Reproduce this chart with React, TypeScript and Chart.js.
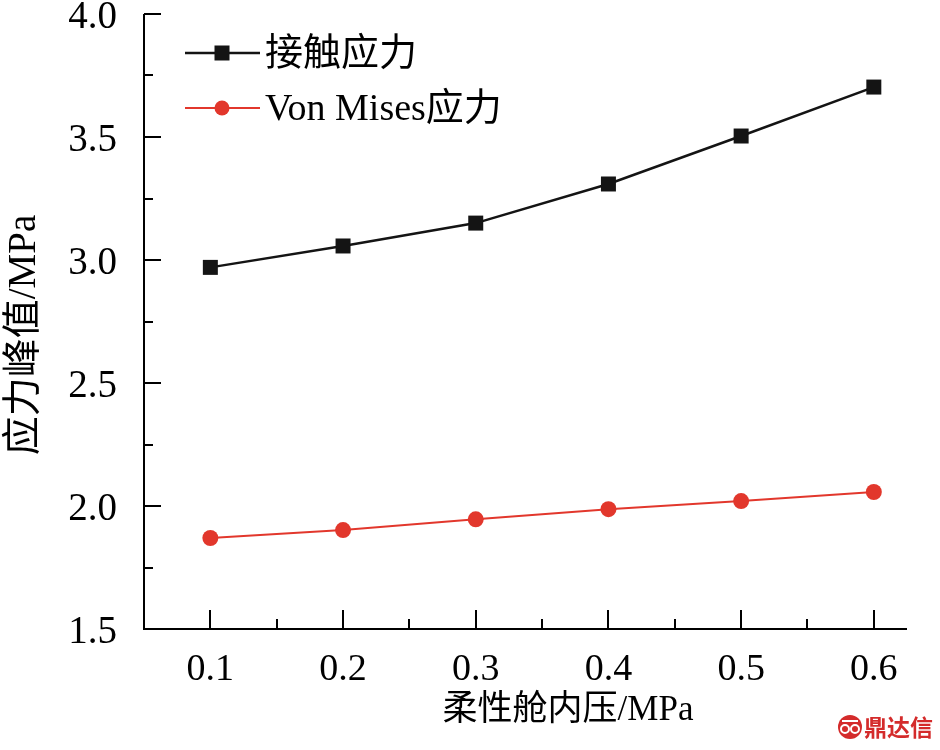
import React, { useEffect, useRef } from 'react';
import { Chart, registerables } from 'chart.js';

Chart.register(...registerables);

// ---- data ----
const pressures = [0.1, 0.2, 0.3, 0.4, 0.5, 0.6];
const contactStress = [2.97, 3.057, 3.15, 3.309, 3.504, 3.703];
const vonMisesStress = [1.87, 1.902, 1.946, 1.987, 2.02, 2.057];
const seriesNames = ['接触应力', 'Von Mises应力'];
const xMajorTicks = [0.1, 0.2, 0.3, 0.4, 0.5, 0.6];
const xMinorTicks = [0.15, 0.25, 0.35, 0.45, 0.55];
const yMajorTicks = [1.5, 2.0, 2.5, 3.0, 3.5, 4.0];
const yMinorTicks = [1.75, 2.25, 2.75, 3.25, 3.75];
const xTitle = '柔性舱内压/MPa';
const yTitle = '应力峰值/MPa';
const watermark = '鼎达信';

const SERIF = '"Liberation Serif", "Noto Sans CJK SC", serif';
const BLACK = '#141414';
const RED = '#e2372c';

const decorPlugin = {
  id: 'decor',
  beforeDatasetsDraw(chart: any) {
    const { ctx, chartArea, scales } = chart;
    const { left, right, top, bottom } = chartArea;
    const x = scales.x;
    const y = scales.y;
    ctx.save();
    ctx.strokeStyle = '#000';
    ctx.lineWidth = 2;
    ctx.beginPath();
    ctx.moveTo(left, top);
    ctx.lineTo(left, bottom);
    ctx.lineTo(right, bottom);
    ctx.stroke();
    ctx.beginPath();
    const MAJ = 19;
    const MIN = 10;
    xMajorTicks.forEach((v) => {
      const p = Math.round(x.getPixelForValue(v));
      ctx.moveTo(p, bottom);
      ctx.lineTo(p, bottom - MAJ);
    });
    xMinorTicks.forEach((v) => {
      const p = Math.round(x.getPixelForValue(v));
      ctx.moveTo(p, bottom);
      ctx.lineTo(p, bottom - MIN);
    });
    yMajorTicks.forEach((v) => {
      const p = Math.round(y.getPixelForValue(v));
      ctx.moveTo(left, p);
      ctx.lineTo(left + 17, p);
    });
    yMinorTicks.forEach((v) => {
      const p = Math.round(y.getPixelForValue(v));
      ctx.moveTo(left, p);
      ctx.lineTo(left + 9, p);
    });
    ctx.stroke();
    ctx.restore();
  },
  afterDraw(chart: any) {
    const { ctx, chartArea } = chart;
    const { left, top } = chartArea;
    ctx.save();
    // legend
    chart.data.datasets.forEach((ds: any, i: number) => {
      const ry = top + 39 + i * 55;
      ctx.strokeStyle = ds.borderColor;
      ctx.lineWidth = ds.borderWidth;
      ctx.beginPath();
      ctx.moveTo(left + 41, ry);
      ctx.lineTo(left + 116, ry);
      ctx.stroke();
      ctx.fillStyle = ds.pointBackgroundColor;
      const cx = left + 78;
      if (ds.pointStyle === 'rect') {
        ctx.fillRect(cx - 7.5, ry - 7.5, 15, 15);
      } else {
        ctx.beginPath();
        ctx.arc(cx, ry, 7.5, 0, Math.PI * 2);
        ctx.fill();
      }
      ctx.fillStyle = '#000';
      ctx.font = `38px ${SERIF}`;
      ctx.textBaseline = 'middle';
      ctx.textAlign = 'left';
      ctx.fillText(ds.label, left + 121, ry + 2);
    });
    // axis titles
    ctx.fillStyle = '#000';
    ctx.textAlign = 'center';
    ctx.textBaseline = 'middle';
    ctx.font = `35px ${SERIF}`;
    ctx.fillText(xTitle, 568, 711);
    ctx.save();
    ctx.translate(25, 335);
    ctx.rotate(-Math.PI / 2);
    ctx.font = `39px ${SERIF}`;
    ctx.fillText(yTitle, 0, 0);
    ctx.restore();
    // watermark
    ctx.fillStyle = '#d42b2b';
    ctx.beginPath();
    ctx.arc(850, 727, 12, 0, Math.PI * 2);
    ctx.fill();
    ctx.strokeStyle = '#fff';
    ctx.lineWidth = 2;
    ctx.beginPath();
    ctx.arc(845, 729, 4, 0, Math.PI * 2);
    ctx.moveTo(859, 729);
    ctx.arc(855, 729, 4, 0, Math.PI * 2);
    ctx.moveTo(842, 721);
    ctx.lineTo(858, 721);
    ctx.stroke();
    ctx.fillStyle = '#d42b2b';
    ctx.textAlign = 'left';
    ctx.font = `bold 23px "Noto Sans CJK SC", sans-serif`;
    ctx.fillText(watermark, 864, 727);
    ctx.restore();
  },
};

export default function App() {
  const ref = useRef<HTMLCanvasElement>(null);
  useEffect(() => {
    if (!ref.current) return;
    const chart = new Chart(ref.current, {
      type: 'line',
      data: {
        datasets: [
          {
            label: seriesNames[0],
            data: pressures.map((p, i) => ({ x: p, y: contactStress[i] })),
            borderColor: BLACK,
            borderWidth: 2.5,
            pointStyle: 'rect',
            pointRadius: 10.6,
            pointBackgroundColor: BLACK,
            pointBorderWidth: 0,
            tension: 0,
          },
          {
            label: seriesNames[1],
            data: pressures.map((p, i) => ({ x: p, y: vonMisesStress[i] })),
            borderColor: RED,
            borderWidth: 2,
            pointStyle: 'circle',
            pointRadius: 8,
            pointBackgroundColor: RED,
            pointBorderWidth: 0,
            tension: 0,
          },
        ],
      } as any,
      options: {
        animation: false,
        responsive: false,
        devicePixelRatio: 1,
        layout: { padding: { top: 14, right: 33, left: 0, bottom: 0 } },
        plugins: { legend: { display: false }, tooltip: { enabled: false } },
        scales: {
          x: {
            type: 'linear',
            min: 0.05,
            max: 0.625,
            grid: { display: false, drawTicks: false },
            border: { display: false },
            ticks: {
              color: '#000',
              font: { family: SERIF, size: 38, lineHeight: 1.2 },
              padding: 18,
              maxRotation: 0,
              autoSkip: false,
              callback: (v: any) => Number(v).toFixed(1),
            },
            afterBuildTicks: (s: any) => {
              s.ticks = xMajorTicks.map((v) => ({ value: v }));
            },
            afterFit: (s: any) => {
              s.height = 121;
              s.paddingLeft = 0;
              s.paddingRight = 0;
            },
          },
          y: {
            type: 'linear',
            min: 1.5,
            max: 4.0,
            grid: { display: false, drawTicks: false },
            border: { display: false },
            ticks: {
              color: '#000',
              font: { family: SERIF, size: 39, lineHeight: 1.2 },
              padding: 27,
              labelOffset: 4,
              autoSkip: false,
              callback: (v: any) => Number(v).toFixed(1),
            },
            afterBuildTicks: (s: any) => {
              s.ticks = yMajorTicks.map((v) => ({ value: v }));
            },
            afterFit: (s: any) => {
              s.width = 144;
              s.paddingTop = 0;
              s.paddingBottom = 0;
            },
          },
        },
      } as any,
      plugins: [decorPlugin],
    });
    return () => chart.destroy();
  }, []);
  return (
    <div style={{ position: 'absolute', left: 0, top: 0, width: 940, height: 750, background: '#fff' }}>
      <canvas ref={ref} width={940} height={750} style={{ display: 'block' }} />
    </div>
  );
}
